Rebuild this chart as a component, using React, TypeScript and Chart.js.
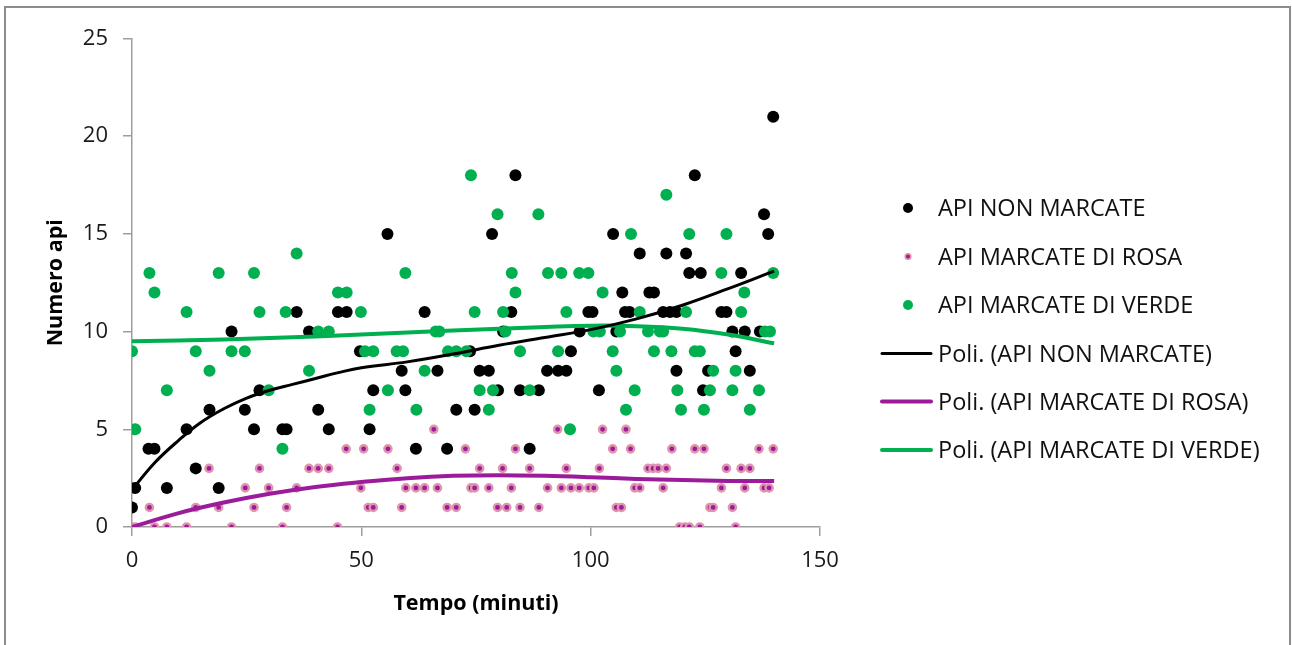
import React, { useEffect, useRef } from "react";
import { Chart, registerables } from "chart.js";

Chart.register(...registerables);

const FONT = "'Open Sans', 'Liberation Sans', sans-serif";

// ---- Data ----
const blackX = [0, 0.7, 3.6, 4.9, 7.6, 11.9, 13.9, 16.9, 18.9, 21.7, 24.6, 26.6, 27.8, 32.8, 33.7, 35.9, 38.6, 40.6, 42.9, 44.9, 46.8, 49.7, 51.8, 52.6, 55.7, 58.8, 59.6, 61.9, 63.8, 66.6, 68.7, 70.7, 73.7, 74.7, 75.8, 77.8, 78.5, 79.8, 80.9, 82.7, 83.6, 84.6, 86.7, 88.7, 90.5, 92.9, 94.7, 95.7, 97.6, 99.5, 100.4, 101.8, 104.9, 105.6, 106.9, 107.5, 108.5, 110.7, 112.8, 113.8, 115.8, 116.5, 117.3, 118.7, 118.7, 120.8, 121.5, 122.7, 124.0, 124.5, 125.6, 128.5, 129.6, 130.9, 131.6, 132.8, 133.6, 134.7, 136.9, 137.8, 138.7, 139.8];
const blackY = [1, 2, 4, 4, 2, 5, 3, 6, 2, 10, 6, 5, 7, 5, 5, 11, 10, 6, 5, 11, 11, 9, 5, 7, 15, 8, 7, 4, 11, 8, 4, 6, 9, 6, 8, 8, 15, 7, 10, 11, 18, 7, 4, 7, 8, 8, 8, 9, 10, 11, 11, 7, 15, 10, 12, 11, 11, 14, 12, 12, 11, 14, 11, 11, 8, 14, 13, 18, 13, 7, 8, 11, 11, 10, 9, 13, 10, 8, 10, 16, 15, 21];

const pinkX = [0, 0.7, 3.8, 4.9, 7.6, 11.9, 13.9, 16.8, 18.9, 21.7, 24.7, 26.6, 27.8, 29.8, 32.8, 33.7, 35.9, 38.6, 40.6, 42.9, 44.8, 46.7, 49.9, 50.5, 51.5, 52.6, 55.8, 57.8, 58.8, 59.7, 61.9, 63.8, 65.8, 66.6, 68.7, 70.7, 72.7, 73.9, 74.7, 75.8, 77.8, 79.7, 80.8, 81.7, 82.7, 83.6, 84.6, 86.7, 88.7, 90.6, 92.8, 93.6, 94.7, 95.7, 97.5, 99.6, 100.7, 101.9, 102.6, 104.8, 105.6, 106.7, 107.7, 108.7, 109.6, 110.7, 112.5, 113.6, 114.7, 115.8, 116.5, 117.7, 119.4, 120.5, 121.5, 122.7, 123.8, 124.7, 126.0, 126.7, 128.5, 129.6, 130.9, 131.6, 132.8, 133.6, 134.7, 136.7, 137.8, 138.9, 139.8];
const pinkY = [0, 0, 1, 0, 0, 0, 1, 3, 1, 0, 2, 1, 3, 2, 0, 1, 2, 3, 3, 3, 0, 4, 2, 4, 1, 1, 4, 3, 1, 2, 2, 2, 5, 2, 1, 1, 4, 2, 2, 3, 2, 1, 3, 1, 2, 4, 1, 3, 1, 2, 5, 2, 3, 2, 2, 2, 2, 3, 5, 4, 1, 1, 5, 4, 2, 2, 3, 3, 3, 2, 3, 4, 0, 0, 0, 4, 0, 4, 1, 1, 2, 3, 1, 0, 3, 2, 3, 4, 2, 2, 4];

const greenX = [0, 0.7, 3.8, 4.9, 7.6, 11.9, 13.9, 16.9, 18.9, 21.7, 24.6, 26.6, 27.8, 29.8, 32.8, 33.5, 35.9, 38.6, 40.6, 42.9, 44.9, 46.8, 49.9, 50.8, 51.8, 52.6, 55.8, 57.7, 59.1, 59.6, 62.0, 63.8, 66.2, 67.0, 68.9, 70.7, 72.9, 73.9, 74.7, 75.8, 77.8, 78.7, 79.7, 80.9, 81.4, 82.8, 83.6, 84.6, 86.7, 88.6, 90.7, 92.9, 93.6, 94.7, 95.5, 97.5, 99.5, 100.6, 102.0, 102.6, 104.8, 105.6, 106.4, 107.7, 108.8, 109.6, 110.7, 112.5, 113.8, 115.1, 115.8, 116.5, 117.6, 118.9, 119.7, 120.8, 121.5, 122.7, 123.8, 124.7, 126.0, 126.7, 128.5, 129.6, 130.9, 131.6, 132.8, 133.5, 134.7, 136.7, 138.0, 139.1, 139.8];
const greenY = [9, 5, 13, 12, 7, 11, 9, 8, 13, 9, 9, 13, 11, 7, 4, 11, 14, 8, 10, 10, 12, 12, 11, 9, 6, 9, 7, 9, 9, 13, 6, 8, 10, 10, 9, 9, 9, 18, 11, 7, 6, 7, 16, 11, 10, 13, 12, 9, 7, 16, 13, 9, 13, 11, 5, 13, 13, 10, 10, 12, 9, 8, 10, 6, 15, 7, 11, 10, 9, 10, 10, 17, 9, 7, 6, 11, 15, 9, 9, 6, 7, 8, 13, 15, 7, 8, 11, 12, 6, 7, 10, 10, 13];

// Polynomial trend lines
const trendBlackX = [0, 5, 10, 15, 20, 25, 30, 35, 40, 45, 50, 60, 70, 80, 90, 100, 110, 120, 130, 140];
const trendBlackY = [1.9, 3.3, 4.4, 5.35, 6.05, 6.6, 7.0, 7.3, 7.6, 7.9, 8.15, 8.45, 8.85, 9.3, 9.7, 10.1, 10.65, 11.35, 12.2, 13.1];
const trendPinkX = [0, 10, 20, 30, 40, 50, 60, 70, 80, 90, 100, 110, 120, 130, 140];
const trendPinkY = [0, 0.7, 1.25, 1.7, 2.05, 2.3, 2.5, 2.62, 2.65, 2.62, 2.55, 2.46, 2.4, 2.36, 2.35];
const trendGreenX = [0, 20, 40, 60, 80, 100, 110, 120, 130, 140];
const trendGreenY = [9.5, 9.6, 9.75, 9.95, 10.15, 10.3, 10.28, 10.15, 9.85, 9.4];

const seriesLabels = ["API NON MARCATE", "API MARCATE DI ROSA", "API MARCATE DI VERDE"];
const trendLabels = ["Poli. (API NON MARCATE)", "Poli. (API MARCATE DI ROSA)", "Poli. (API MARCATE DI VERDE)"];
const xTitle = "Tempo (minuti)";
const yTitle = "Numero api";
const xMin = 0, xMax = 150, xStep = 50;
const yMin = 0, yMax = 25, yStep = 5;

const BLACK = "#000000";
const PURPLE = "#9B1B9B";
const PINK_RING = "#DE95AD";
const GREEN = "#00B050";
const AXIS = "#9d9d9d";

const toPts = (xs: number[], ys: number[]) => xs.map((x, i) => ({ x, y: ys[i] }));

export default function App() {
  const ref = useRef<HTMLCanvasElement>(null);

  useEffect(() => {
    const canvas = ref.current!;
    const legendPlugin = {
      id: "customLegend",
      afterDraw(chart: any) {
        const ctx = chart.ctx as CanvasRenderingContext2D;
        ctx.save();
        ctx.font = `23.5px ${FONT}`;
        ctx.fillStyle = "#111111";
        ctx.textAlign = "left";
        ctx.textBaseline = "alphabetic";
        const textX = 938;
        const rows = [208, 256.5, 305, 353.5, 401.5, 450];
        const labels = [...seriesLabels, ...trendLabels];
        rows.forEach((cy, i) => {
          ctx.fillText(labels[i], textX, cy + 8.4);
        });
        const dot = (cy: number, r: number, fill: string, stroke?: string, sw = 0) => {
          ctx.beginPath();
          ctx.arc(908, cy, r, 0, Math.PI * 2);
          ctx.fillStyle = fill;
          ctx.fill();
          if (stroke) {
            ctx.lineWidth = sw;
            ctx.strokeStyle = stroke;
            ctx.stroke();
          }
        };
        dot(rows[0], 5, BLACK);
        dot(rows[1], 2.8, PURPLE, PINK_RING, 1.6);
        dot(rows[2], 5, GREEN);
        const line = (cy: number, color: string, w: number) => {
          ctx.beginPath();
          ctx.moveTo(882, cy);
          ctx.lineTo(931, cy);
          ctx.lineCap = "round";
          ctx.lineWidth = w;
          ctx.strokeStyle = color;
          ctx.stroke();
        };
        line(rows[3], BLACK, 3);
        line(rows[4], PURPLE, 4);
        line(rows[5], GREEN, 4);
        ctx.restore();
      },
    };

    const chart = new Chart(canvas, {
      type: "scatter",
      data: {
        datasets: [
          {
            label: trendLabels[0],
            data: toPts(trendBlackX, trendBlackY),
            showLine: true,
            borderColor: BLACK,
            backgroundColor: BLACK,
            borderWidth: 3,
            pointRadius: 0,
            tension: 0.4,
            order: 0,
          },
          {
            label: trendLabels[1],
            data: toPts(trendPinkX, trendPinkY),
            showLine: true,
            borderColor: PURPLE,
            backgroundColor: PURPLE,
            borderWidth: 4,
            pointRadius: 0,
            tension: 0.4,
            order: 0,
          },
          {
            label: trendLabels[2],
            data: toPts(trendGreenX, trendGreenY),
            showLine: true,
            borderColor: GREEN,
            backgroundColor: GREEN,
            borderWidth: 4,
            pointRadius: 0,
            tension: 0.4,
            order: 0,
          },
          {
            label: seriesLabels[2],
            data: toPts(greenX, greenY),
            backgroundColor: GREEN,
            borderColor: GREEN,
            borderWidth: 0,
            pointRadius: 6,
            order: 1,
          },
          {
            label: seriesLabels[1],
            data: toPts(pinkX, pinkY),
            backgroundColor: PURPLE,
            borderColor: PINK_RING,
            borderWidth: 2.4,
            pointRadius: 3.6,
            order: 2,
          },
          {
            label: seriesLabels[0],
            data: toPts(blackX, blackY),
            backgroundColor: BLACK,
            borderColor: BLACK,
            borderWidth: 0,
            pointRadius: 6,
            order: 3,
          },
        ] as any,
      },
      options: {
        responsive: false,
        maintainAspectRatio: false,
        devicePixelRatio: 1,
        animation: false,
        layout: { padding: { left: 0, top: 38.5, right: 472, bottom: 0 } },
        plugins: {
          legend: { display: false },
          tooltip: { enabled: false },
        },
        scales: {
          x: {
            type: "linear",
            min: xMin,
            max: xMax,
            afterFit: (s: any) => {
              s.height = 118;
            },
            ticks: {
              stepSize: xStep,
              font: { family: FONT, size: 22 },
              color: "#1a1a1a",
              padding: 12,
            },
            grid: {
              drawOnChartArea: false,
              drawTicks: true,
              tickLength: 9,
              color: AXIS,
              lineWidth: 1.5,
            },
            border: { display: true, color: AXIS, width: 1.5 },
            title: {
              display: true,
              text: xTitle,
              font: { family: FONT, size: 21.5, weight: "bold" },
              color: "#000000",
              padding: { top: 0, bottom: 28.5 },
            },
          },
          y: {
            type: "linear",
            min: yMin,
            max: yMax,
            afterFit: (s: any) => {
              s.width = 132;
            },
            ticks: {
              stepSize: yStep,
              font: { family: FONT, size: 22 },
              color: "#1a1a1a",
              padding: 15,
            },
            grid: {
              drawOnChartArea: false,
              drawTicks: true,
              tickLength: 9,
              color: AXIS,
              lineWidth: 1.5,
            },
            border: { display: true, color: AXIS, width: 1.5 },
            title: {
              display: true,
              text: yTitle,
              font: { family: FONT, size: 21.5, weight: "bold" },
              color: "#000000",
              padding: { top: 43, bottom: 0 },
            },
          },
        },
      } as any,
      plugins: [legendPlugin],
    });
    return () => chart.destroy();
  }, []);

  return (
    <div
      style={{
        position: "fixed",
        left: 0,
        top: 0,
        width: 1292,
        height: 645,
        background: "#ffffff",
        overflow: "hidden",
      }}
    >
      <canvas
        ref={ref}
        width={1292}
        height={645}
        style={{ position: "absolute", left: 0, top: 0, width: 1292, height: 645 }}
      />
      <div
        style={{
          position: "absolute",
          left: 4,
          top: 6,
          width: 1287,
          height: 700,
          border: "2px solid #8c8c8c",
          boxSizing: "border-box",
          pointerEvents: "none",
        }}
      />
    </div>
  );
}
